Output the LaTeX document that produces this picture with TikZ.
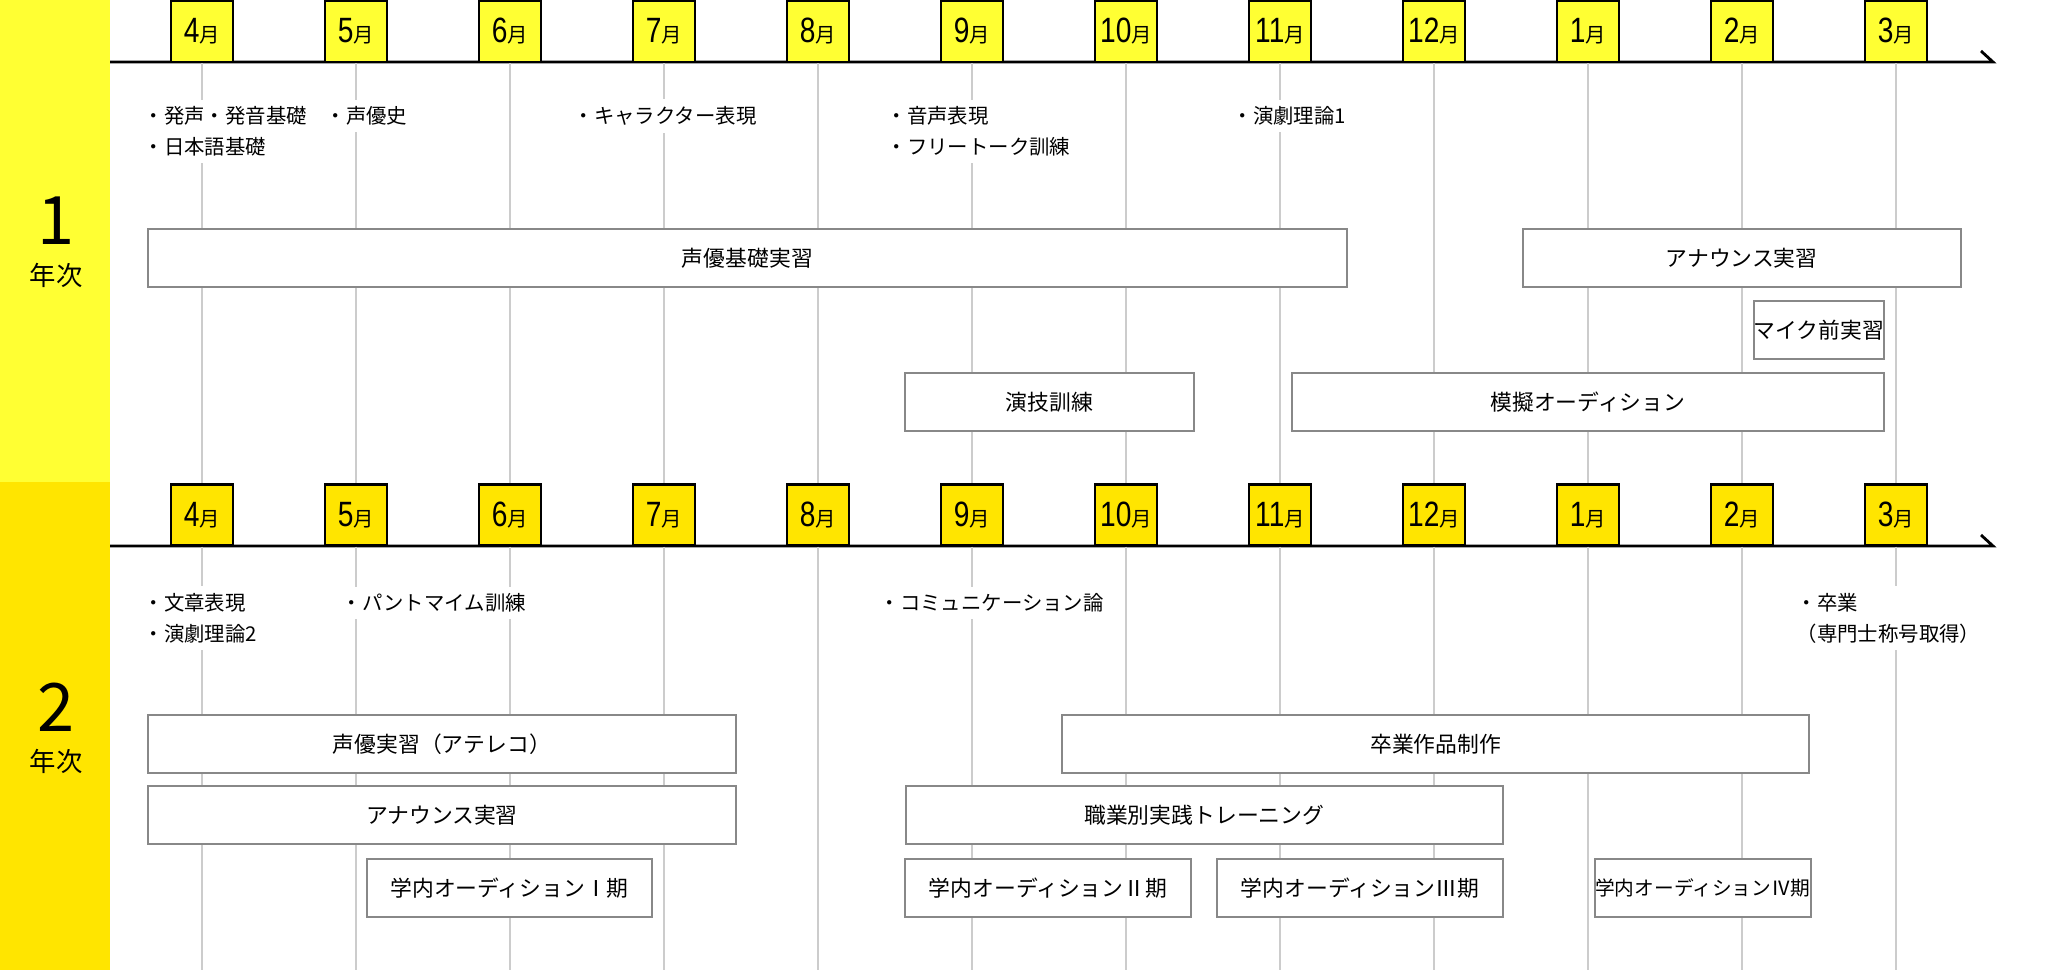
\documentclass[tikz,border=0pt]{standalone}
\usepackage{fontspec}
\setmainfont{Noto Sans CJK JP}
\newfontfamily\numfont[FakeStretch=0.8]{Liberation Sans}
\definecolor{yelA}{RGB}{255,255,51}
\definecolor{yelB}{RGB}{255,229,0}
\definecolor{boxgray}{RGB}{136,136,136}
\definecolor{gridgray}{RGB}{204,204,204}
\newcommand{\tsuki}[1]{{\numfont\fontsize{10}{10}\selectfont #1}{\fontsize{5.8}{6}\selectfont 月}}
\tikzset{
  month/.style={draw=black, line width=0.6pt, minimum width=0.62cm, minimum height=0.61cm, inner sep=0pt},
  note/.style={fill=white, inner sep=2pt, align=left, anchor=west, font=\fontsize{5.8}{8.8}\selectfont},
  course/.style={draw=boxgray, fill=white, line width=0.55pt, minimum height=0.58cm, inner sep=0pt, font=\fontsize{6.2}{7}\selectfont},
  grid/.style={draw=gridgray, line width=0.3pt},
  axis/.style={line width=0.8pt}
}
\begin{document}
\begin{tikzpicture}[x=0.01cm,y=-0.01cm]
      \useasboundingbox (0,0) rectangle (2072,970);
      % year bands
      \fill[yelA] (0,0) rectangle (110,482);
      \fill[yelB] (0,482) rectangle (110,970);
      \node[font=\fontsize{19}{19}\selectfont] (y1) at (56,221) {1};
      \node[font=\fontsize{7.5}{8}\selectfont] (y1t) at (56,275) {年次};
      \node[font=\fontsize{19}{19}\selectfont] (y2) at (56,707) {2};
      \node[font=\fontsize{7.5}{8}\selectfont] (y2t) at (56,761) {年次};
      % time axes
      \coordinate (s1) at (110,62);
      \coordinate (e1) at (1993,62);
      \coordinate (s2) at (110,546);
      \coordinate (e2) at (1993,546);
      \coordinate (bot) at (0,970);
      \draw[axis] (s1) -- (e1) -- ++(-12,-11);
      \draw[axis] (s2) -- (e2) -- ++(-12,-11);
      % months, first year
      \draw
        (202,31.5) node[month,fill=yelA] (a4){\tsuki{4}}
        (356,31.5) node[month,fill=yelA] (a5){\tsuki{5}}
        (510,31.5) node[month,fill=yelA] (a6){\tsuki{6}}
        (664,31.5) node[month,fill=yelA] (a7){\tsuki{7}}
        (818,31.5) node[month,fill=yelA] (a8){\tsuki{8}}
        (972,31.5) node[month,fill=yelA] (a9){\tsuki{9}}
        (1126,31.5) node[month,fill=yelA] (a10){\tsuki{10}}
        (1280,31.5) node[month,fill=yelA] (a11){\tsuki{11}}
        (1434,31.5) node[month,fill=yelA] (a12){\tsuki{12}}
        (1588,31.5) node[month,fill=yelA] (a1){\tsuki{1}}
        (1742,31.5) node[month,fill=yelA] (a2){\tsuki{2}}
        (1896,31.5) node[month,fill=yelA] (a3){\tsuki{3}};
      % months, second year
      \draw
        (202,515) node[month,fill=yelB] (b4){\tsuki{4}}
        (356,515) node[month,fill=yelB] (b5){\tsuki{5}}
        (510,515) node[month,fill=yelB] (b6){\tsuki{6}}
        (664,515) node[month,fill=yelB] (b7){\tsuki{7}}
        (818,515) node[month,fill=yelB] (b8){\tsuki{8}}
        (972,515) node[month,fill=yelB] (b9){\tsuki{9}}
        (1126,515) node[month,fill=yelB] (b10){\tsuki{10}}
        (1280,515) node[month,fill=yelB] (b11){\tsuki{11}}
        (1434,515) node[month,fill=yelB] (b12){\tsuki{12}}
        (1588,515) node[month,fill=yelB] (b1){\tsuki{1}}
        (1742,515) node[month,fill=yelB] (b2){\tsuki{2}}
        (1896,515) node[month,fill=yelB] (b3){\tsuki{3}};
      % month guide lines
      \begin{scope}[grid]
        \draw (a4.south) -- (b4.north) (b4.south) -- (b4 |- bot);
        \draw (a5.south) -- (b5.north) (b5.south) -- (b5 |- bot);
        \draw (a6.south) -- (b6.north) (b6.south) -- (b6 |- bot);
        \draw (a7.south) -- (b7.north) (b7.south) -- (b7 |- bot);
        \draw (a8.south) -- (b8.north) (b8.south) -- (b8 |- bot);
        \draw (a9.south) -- (b9.north) (b9.south) -- (b9 |- bot);
        \draw (a10.south) -- (b10.north) (b10.south) -- (b10 |- bot);
        \draw (a11.south) -- (b11.north) (b11.south) -- (b11 |- bot);
        \draw (a12.south) -- (b12.north) (b12.south) -- (b12 |- bot);
        \draw (a1.south) -- (b1.north) (b1.south) -- (b1 |- bot);
        \draw (a2.south) -- (b2.north) (b2.south) -- (b2 |- bot);
        \draw (a3.south) -- (b3.north) (b3.south) -- (b3 |- bot);
      \end{scope}
      % subjects, first year
      \node[note] (n1) at (136,131.5) {・発声・発音基礎\\・日本語基礎};
      \node[note] (n2) at (318,116) {・声優史};
      \node[note] (n3) at (566,116) {・キャラクター表現};
      \node[note] (n4) at (879,131.5) {・音声表現\\・フリートーク訓練};
      \node[note] (n5) at (1225,116) {・演劇理論1};
      \node[course, minimum width=11.98cm] (k1) at (747.4,258) {声優基礎実習};
      \node[course, minimum width=4.38cm] (k2) at (1741.7,258) {アナウンス実習};
      \node[course, minimum width=1.30cm] (k3) at (1818.8,330) {マイク前実習};
      \node[course, minimum width=2.88cm] (k4) at (1049.5,402) {演技訓練};
      \node[course, minimum width=5.92cm] (k5) at (1587.9,402) {模擬オーディション};
      % subjects, second year
      \node[note] (p1) at (136,618) {・文章表現\\・演劇理論2};
      \node[note] (p2) at (334,603) {・パントマイム訓練};
      \node[note] (p3) at (872,603) {・コミュニケーション論};
      \node[note] (p4) at (1789,618) {・卒業\\（専門士称号取得）};
      \node[course, minimum width=5.87cm] (m1) at (441.9,744) {声優実習（アテレコ）};
      \node[course, minimum width=7.47cm] (m2) at (1435.7,744) {卒業作品制作};
      \node[course, minimum width=5.87cm] (m3) at (441.9,815) {アナウンス実習};
      \node[course, minimum width=5.97cm] (m4) at (1204.3,815) {職業別実践トレーニング};
      \node[course, minimum width=2.85cm] (m5) at (509.6,888) {学内オーディションⅠ期};
      \node[course, minimum width=2.85cm] (m6) at (1048,888) {学内オーディションⅡ期};
      \node[course, minimum width=2.86cm] (m7) at (1360,888) {学内オーディションⅢ期};
      \node[course, minimum width=2.07cm, font=\fontsize{5.6}{7}\selectfont] (m8) at (1702.9,888) {学内オーディションⅣ期};
    \end{tikzpicture}
\end{document}
